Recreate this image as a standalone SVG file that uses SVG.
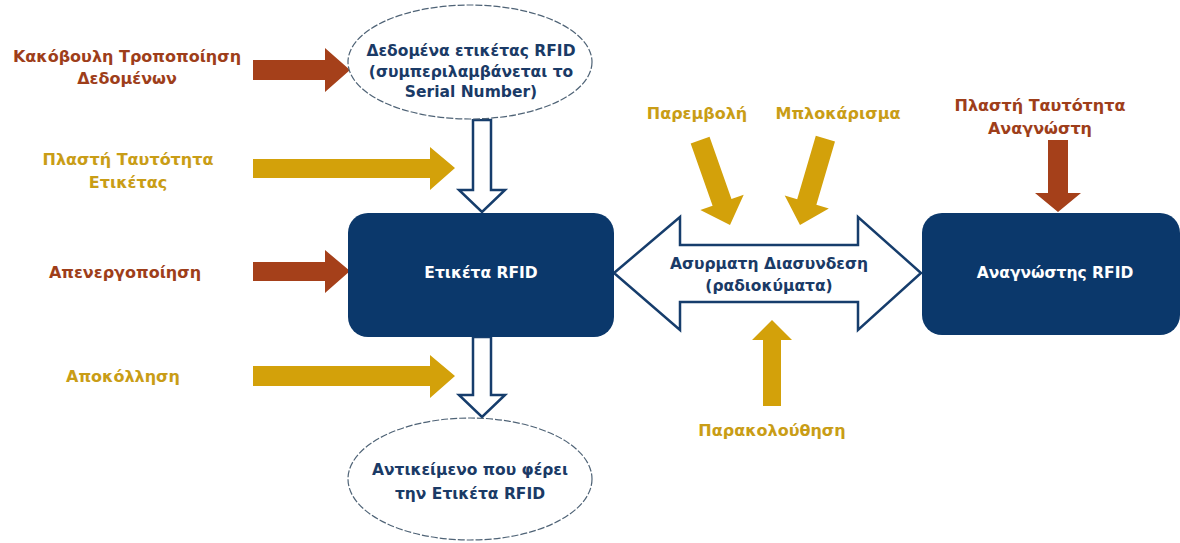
<svg xmlns="http://www.w3.org/2000/svg" width="1180" height="543" viewBox="0 0 1180 543">
<defs>
<style>
text{font-family:"DejaVu Sans","Liberation Sans",sans-serif;font-weight:bold;text-anchor:middle}
.lbl{font-size:16px}
.gold{fill:#c99d16}
.brown{fill:#9e3e1a}
.navyT{fill:#1a3a66;font-size:15.5px}
.whiteT{fill:#ffffff;font-size:15.5px}
.goldA{fill:#d3a10a}
.brownA{fill:#a5401a}
.box{fill:#0b386b}
.ell{fill:#ffffff;stroke:#4f6376;stroke-width:1.2;stroke-dasharray:7 2}
.hollow{fill:#ffffff;stroke:#163d6c;stroke-width:2.5;stroke-linejoin:miter}
</style>
</defs>
<rect width="1180" height="543" fill="#ffffff"/>

<g id="connectors">
<path class="hollow" d="M473,120 L491,120 L491,190 L505,190 L482,212 L459,190 L473,190 Z"/>
<path class="hollow" d="M473,337 L491,337 L491,395 L505,395 L482,417 L459,395 L473,395 Z"/>
<path class="hollow" d="M614,273 L680,217 L680,245 L858,245 L858,217 L921,273 L858,330 L858,302 L680,302 L680,330 Z"/>
<path class="brownA" d="M253,60 L325,60 L325,48 L350,70 L325,92 L325,80 L253,80 Z"/>
<path class="goldA" d="M253,159 L430,159 L430,147 L455,168 L430,190 L430,178 L253,178 Z"/>
<path class="brownA" d="M253,262 L325,262 L325,250 L350,271 L325,293 L325,281 L253,281 Z"/>
<path class="goldA" d="M253,366 L430,366 L430,355 L455,376 L430,398 L430,386 L253,386 Z"/>
<path class="goldA" transform="translate(730,225) rotate(-19.4)" d="M-10,-90 L10,-90 L10,-24 L23,-24 L0,0 L-23,-24 L-10,-24 Z"/>
<path class="goldA" transform="translate(800,225) rotate(16.4)" d="M-10,-90 L10,-90 L10,-24 L23,-24 L0,0 L-23,-24 L-10,-24 Z"/>
<path class="brownA" d="M1048,140 L1068,140 L1068,193 L1081,193 L1058,212 L1035,193 L1048,193 Z"/>
<path class="goldA" d="M763,406 L781,406 L781,340 L792,340 L772,320 L752,340 L763,340 Z"/>
</g>

<g id="node-data">
<ellipse class="ell" cx="470" cy="62" rx="122" ry="57"/>
<text class="navyT" x="471" y="56">Δεδομένα ετικέτας RFID</text>
<text class="navyT" x="471" y="77">(συμπεριλαμβάνεται το</text>
<text class="navyT" x="471" y="97">Serial Number)</text>
</g>

<g id="node-tag">
<rect class="box" x="348" y="213" width="266" height="124" rx="20"/>
<text class="whiteT" x="481" y="278">Ετικέτα RFID</text>
</g>

<g id="node-reader">
<rect class="box" x="922" y="213" width="258" height="122" rx="20"/>
<text class="whiteT" x="1055" y="278">Αναγνώστης RFID</text>
</g>

<g id="node-object">
<ellipse class="ell" cx="470" cy="479" rx="122" ry="61"/>
<text class="navyT" x="470" y="475">Αντικείμενο που φέρει</text>
<text class="navyT" x="470" y="499">την Ετικέτα RFID</text>
</g>

<g id="node-wireless">
<text class="navyT" x="769" y="269">Ασυρματη Διασυνδεση</text>
<text class="navyT" x="769" y="291">(ραδιοκύματα)</text>
</g>

<g id="threat-labels">
<text class="lbl brown" x="127" y="62">Κακόβουλη Τροποποίηση</text>
<text class="lbl brown" x="127" y="84">Δεδομένων</text>
<text class="lbl gold" x="128" y="165">Πλαστή Ταυτότητα</text>
<text class="lbl gold" x="128" y="188">Ετικέτας</text>
<text class="lbl brown" x="125" y="278">Απενεργοποίηση</text>
<text class="lbl gold" x="123" y="382">Αποκόλληση</text>
<text class="lbl gold" x="697" y="119">Παρεμβολή</text>
<text class="lbl gold" x="838" y="119">Μπλοκάρισμα</text>
<text class="lbl brown" x="1040" y="111">Πλαστή Ταυτότητα</text>
<text class="lbl brown" x="1040" y="134">Αναγνώστη</text>
<text class="lbl gold" x="772" y="436">Παρακολούθηση</text>
</g>
</svg>
